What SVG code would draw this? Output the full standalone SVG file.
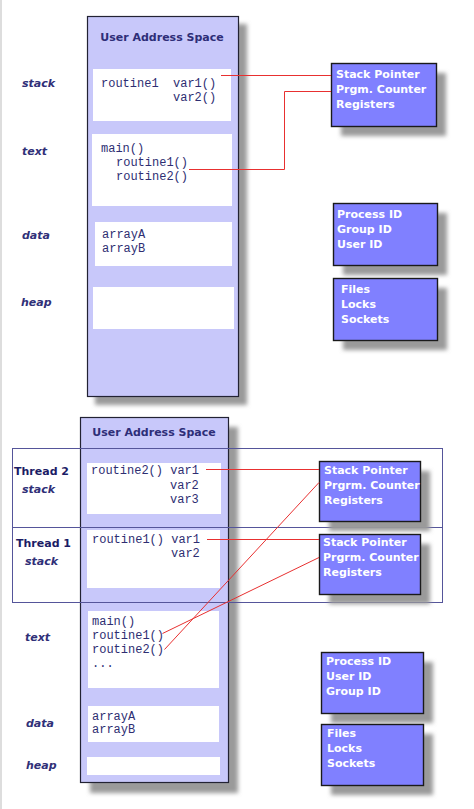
<svg xmlns="http://www.w3.org/2000/svg" width="474" height="809" viewBox="0 0 474 809">
<style>
.bg{fill:#ffffff}
.panel{fill:#c8c8fa;stroke:#222233;stroke-width:1.2}
.shadow{fill:#9a9a9a;filter:url(#blur)}
.white{fill:#ffffff}
.box{fill:#8080ff;stroke:#1a1a1a;stroke-width:1.4}
.frame{fill:none;stroke:#55559a;stroke-width:1}
.title{font-family:"DejaVu Sans",Verdana,sans-serif;font-weight:bold;font-size:11px;fill:#2e2e78;text-anchor:middle}
.lbl{font-family:"DejaVu Sans",Verdana,sans-serif;font-weight:bold;font-style:italic;font-size:11px;fill:#303078}
.thr{font-family:"DejaVu Sans",Verdana,sans-serif;font-weight:bold;font-size:11px;fill:#1c1c66}
.mono{font-family:"Liberation Mono","Courier New",monospace;font-size:12px;fill:#2e2e72;white-space:pre}
.bt{font-family:"DejaVu Sans",Verdana,sans-serif;font-weight:bold;font-size:11px;fill:#ffffff}
.con{fill:none;stroke:#e83030;stroke-width:1}
</style>
<defs>
<filter id="blur" x="-20%" y="-20%" width="140%" height="140%"><feGaussianBlur stdDeviation="2"/></filter>
</defs>
<rect class="bg" x="0" y="0" width="474" height="809"/>
<rect x="0" y="0" width="2" height="809" fill="#dddddd"/>

<!-- Top process -->
<g id="uas-top">
<rect class="shadow" x="95" y="24" width="152" height="381"/>
<rect class="panel" x="87.5" y="16.5" width="151" height="380"/>
<text class="title" x="162" y="41">User Address Space</text>
</g>
<g id="top-stack">
<rect class="white" x="93" y="69" width="138" height="52"/>
<text class="mono" x="101" y="87" xml:space="preserve">routine1  var1()</text>
<text class="mono" x="173" y="101">var2()</text>
<text class="lbl" x="22" y="87">stack</text>
</g>
<g id="top-text">
<rect class="white" x="92" y="134" width="140" height="72"/>
<text class="mono" x="101" y="152">main()</text>
<text class="mono" x="116" y="166">routine1()</text>
<text class="mono" x="116" y="180">routine2()</text>
<text class="lbl" x="22" y="155">text</text>
</g>
<g id="top-data">
<rect class="white" x="95" y="222" width="137" height="44"/>
<text class="mono" x="102" y="238">arrayA</text>
<text class="mono" x="102" y="252">arrayB</text>
<text class="lbl" x="22" y="239">data</text>
</g>
<g id="top-heap">
<rect class="white" x="93" y="287" width="141" height="42"/>
<text class="lbl" x="21" y="306">heap</text>
</g>
<g id="top-regs">
<rect class="shadow" x="341" y="73" width="105" height="63"/>
<rect class="box" x="331.5" y="63.5" width="105" height="63"/>
<text class="bt" x="336" y="78">Stack Pointer</text>
<text class="bt" x="336" y="93">Prgm. Counter</text>
<text class="bt" x="336" y="108">Registers</text>
</g>
<g id="top-ids">
<rect class="shadow" x="343" y="213" width="104" height="62"/>
<rect class="box" x="333.5" y="203.5" width="104" height="62"/>
<text class="bt" x="337" y="218">Process ID</text>
<text class="bt" x="337" y="233">Group ID</text>
<text class="bt" x="337" y="248">User ID</text>
</g>
<g id="top-files">
<rect class="shadow" x="343" y="288" width="104" height="62"/>
<rect class="box" x="333.5" y="278.5" width="104" height="62"/>
<text class="bt" x="341" y="293">Files</text>
<text class="bt" x="341" y="308">Locks</text>
<text class="bt" x="341" y="323">Sockets</text>
</g>

<!-- Bottom process -->
<g id="uas-bottom">
<rect class="shadow" x="90" y="427" width="148" height="366"/>
<rect class="panel" x="80.5" y="417.5" width="148" height="365"/>
<text class="title" x="154" y="436">User Address Space</text>
</g>
<g id="threads-frame">
<rect class="frame" x="12.5" y="448.5" width="430" height="154"/>
<line class="frame" x1="12.5" y1="527.5" x2="442.5" y2="527.5"/>
<text class="thr" x="14" y="475">Thread 2</text>
<text class="lbl" x="22" y="493">stack</text>
<text class="thr" x="16" y="547">Thread 1</text>
<text class="lbl" x="25" y="565">stack</text>
</g>
<g id="t2-stack">
<rect class="white" x="87" y="463" width="134" height="51"/>
<text class="mono" x="91" y="474">routine2() var1</text>
<text class="mono" x="170" y="489">var2</text>
<text class="mono" x="170" y="503">var3</text>
</g>
<g id="t1-stack">
<rect class="white" x="87" y="530" width="133" height="58"/>
<text class="mono" x="92" y="543">routine1() var1</text>
<text class="mono" x="171" y="557">var2</text>
</g>
<g id="bot-text">
<rect class="white" x="88" y="611" width="131" height="77"/>
<text class="mono" x="92" y="625">main()</text>
<text class="mono" x="92" y="639">routine1()</text>
<text class="mono" x="92" y="653">routine2()</text>
<text class="mono" x="92" y="667">...</text>
<text class="lbl" x="25" y="641">text</text>
</g>
<g id="bot-data">
<rect class="white" x="88" y="706" width="131" height="36"/>
<text class="mono" x="92" y="720">arrayA</text>
<text class="mono" x="92" y="733">arrayB</text>
<text class="lbl" x="26" y="727">data</text>
</g>
<g id="bot-heap">
<rect class="white" x="87" y="757" width="133" height="18"/>
<text class="lbl" x="26" y="769">heap</text>
</g>
<g id="t2-regs">
<rect class="shadow" x="329" y="471" width="101" height="60"/>
<rect class="box" x="319.5" y="461.5" width="101" height="60"/>
<text class="bt" x="324" y="474">Stack Pointer</text>
<text class="bt" x="324" y="489">Prgrm. Counter</text>
<text class="bt" x="324" y="504">Registers</text>
</g>
<g id="t1-regs">
<rect class="shadow" x="329" y="544" width="101" height="60"/>
<rect class="box" x="319.5" y="534.5" width="101" height="60"/>
<text class="bt" x="323" y="546">Stack Pointer</text>
<text class="bt" x="323" y="561">Prgrm. Counter</text>
<text class="bt" x="323" y="576">Registers</text>
</g>
<g id="bot-ids">
<rect class="shadow" x="331" y="662" width="102" height="61"/>
<rect class="box" x="321.5" y="652.5" width="102" height="61"/>
<text class="bt" x="326" y="665">Process ID</text>
<text class="bt" x="326" y="680">User ID</text>
<text class="bt" x="326" y="695">Group ID</text>
</g>
<g id="bot-files">
<rect class="shadow" x="331" y="734" width="102" height="61"/>
<rect class="box" x="321.5" y="724.5" width="102" height="61"/>
<text class="bt" x="327" y="737">Files</text>
<text class="bt" x="327" y="752">Locks</text>
<text class="bt" x="327" y="767">Sockets</text>
</g>

<g id="connectors">
<line class="con" x1="221" y1="75.5" x2="331" y2="75.5"/>
<polyline class="con" points="189,169.5 284.5,169.5 284.5,91.5 331,91.5"/>
<line class="con" x1="206" y1="469.5" x2="319" y2="469.5"/>
<line class="con" x1="207" y1="539.5" x2="319" y2="539.5"/>
<line class="con" x1="164.5" y1="649.5" x2="319" y2="482.5"/>
<line class="con" x1="162.5" y1="633.5" x2="319" y2="557.5"/>
</g>
</svg>
